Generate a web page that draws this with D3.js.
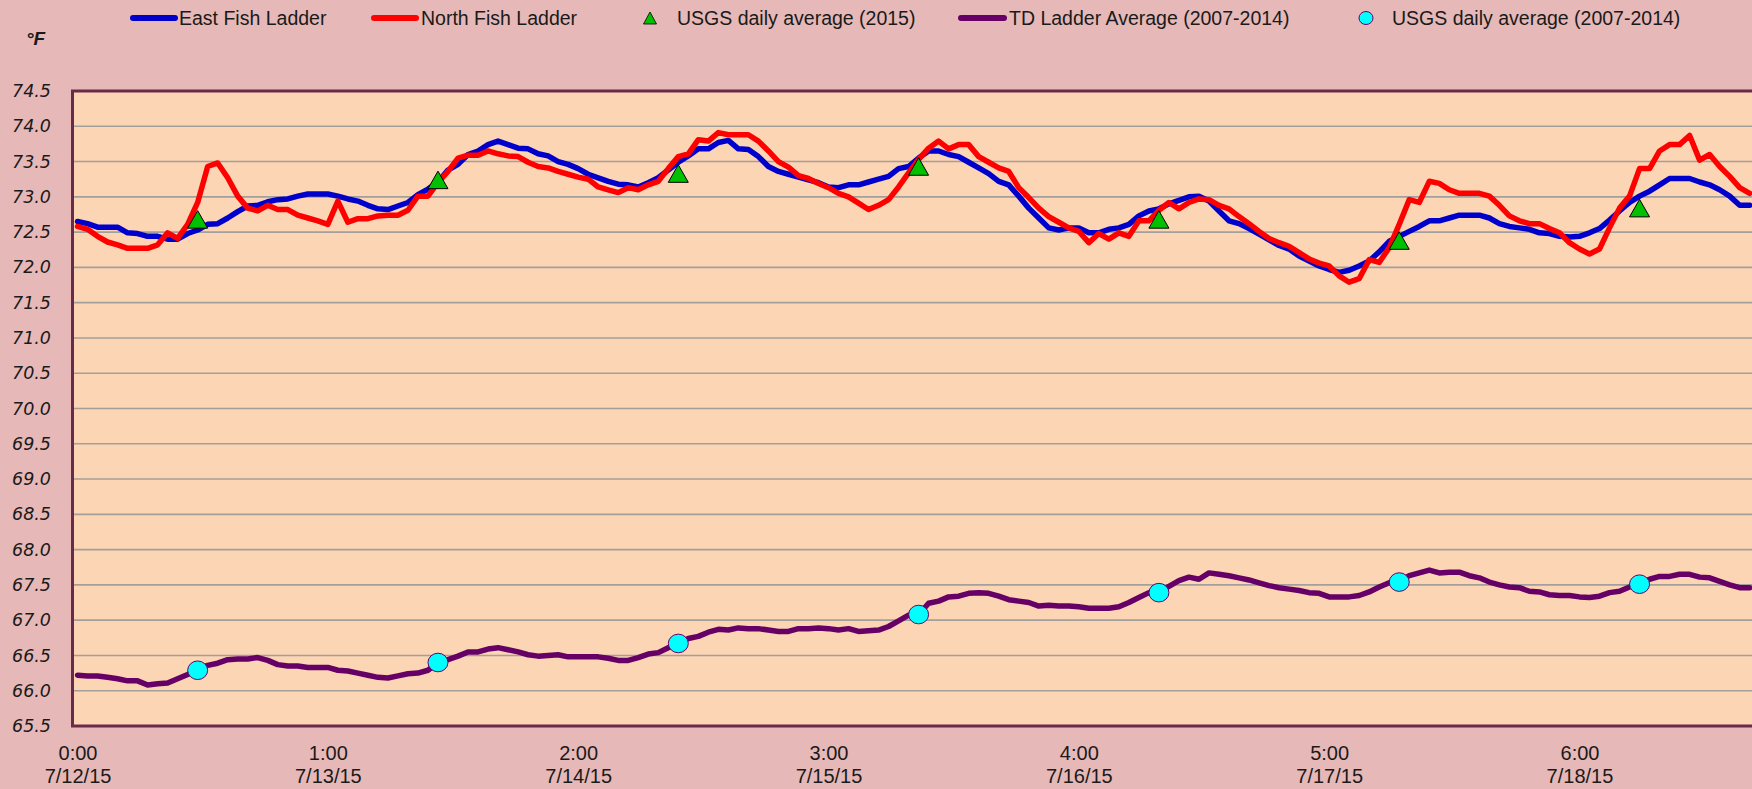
<!DOCTYPE html>
<html><head><meta charset="utf-8">
<script src="https://cdn.jsdelivr.net/npm/d3@7"></script>
<style>body{margin:0;background:#E6B8B7;} svg{display:block}</style>
</head><body>
<svg id="c" width="1752" height="789"></svg>
<script>
// Hourly readings, index 0 = 7/12/15 0:00
const eastFishLadder = [
72.65,72.62,72.57,72.57,72.57,72.49,72.48,72.44,72.44,72.40,
72.40,72.48,72.53,72.61,72.62,72.70,72.79,72.87,72.88,72.93,
72.96,72.97,73.01,73.04,73.04,73.04,73.01,72.97,72.94,72.88,
72.83,72.82,72.87,72.92,73.03,73.11,73.21,73.38,73.46,73.60,
73.65,73.74,73.79,73.74,73.69,73.68,73.61,73.58,73.50,73.46,
73.40,73.32,73.27,73.22,73.18,73.17,73.14,73.20,73.27,73.38,
73.49,73.58,73.68,73.68,73.77,73.80,73.68,73.67,73.57,73.43,
73.36,73.32,73.28,73.24,73.20,73.14,73.13,73.17,73.17,73.21,
73.25,73.29,73.40,73.43,73.55,73.65,73.65,73.60,73.57,73.49,
73.41,73.33,73.22,73.17,73.01,72.84,72.70,72.56,72.53,72.56,
72.56,72.49,72.49,72.54,72.56,72.61,72.73,72.80,72.83,72.90,
72.95,73.00,73.01,72.94,72.80,72.66,72.62,72.55,72.47,72.39,
72.31,72.26,72.16,72.09,72.02,71.97,71.93,71.96,72.02,72.09,
72.22,72.37,72.44,72.51,72.58,72.66,72.66,72.70,72.74,72.74,
72.74,72.70,72.62,72.58,72.56,72.54,72.49,72.48,72.44,72.43,
72.44,72.49,72.55,72.67,72.80,72.92,73.01,73.08,73.17,73.26,
73.26,73.26,73.21,73.17,73.10,73.01,72.88,72.88];
const northFishLadder = [
72.58,72.54,72.44,72.36,72.32,72.27,72.27,72.27,72.32,72.49,
72.41,72.61,72.92,73.43,73.48,73.27,73.01,72.84,72.80,72.88,
72.82,72.82,72.74,72.70,72.66,72.61,72.94,72.64,72.69,72.69,
72.73,72.74,72.74,72.81,73.01,73.01,73.20,73.36,73.55,73.59,
73.59,73.65,73.61,73.58,73.57,73.49,73.43,73.41,73.36,73.32,
73.28,73.25,73.14,73.10,73.06,73.13,73.10,73.17,73.22,73.40,
73.57,73.61,73.81,73.79,73.91,73.88,73.88,73.88,73.79,73.65,
73.50,73.42,73.30,73.26,73.19,73.13,73.05,73.00,72.91,72.82,
72.88,72.96,73.14,73.34,73.53,73.69,73.79,73.68,73.74,73.74,
73.57,73.49,73.41,73.36,73.13,72.99,72.84,72.72,72.64,72.56,
72.51,72.35,72.48,72.40,72.49,72.44,72.66,72.66,72.81,72.92,
72.83,72.92,72.97,72.96,72.88,72.83,72.72,72.62,72.51,72.41,
72.35,72.30,72.21,72.12,72.06,72.02,71.88,71.79,71.84,72.11,
72.07,72.28,72.61,72.96,72.92,73.22,73.19,73.10,73.05,73.05,
73.05,73.01,72.88,72.73,72.66,72.62,72.62,72.55,72.49,72.35,
72.26,72.19,72.26,72.56,72.84,73.01,73.40,73.40,73.65,73.74,
73.74,73.87,73.52,73.60,73.43,73.29,73.13,73.05];
const tdLadderAverage = [
66.22,66.21,66.21,66.19,66.17,66.14,66.14,66.08,66.10,66.11,
66.17,66.23,66.30,66.36,66.39,66.44,66.45,66.45,66.47,66.43,
66.37,66.35,66.35,66.33,66.33,66.33,66.29,66.28,66.25,66.22,
66.19,66.18,66.21,66.24,66.25,66.29,66.40,66.44,66.49,66.55,
66.55,66.59,66.61,66.58,66.55,66.51,66.49,66.50,66.51,66.48,
66.48,66.48,66.48,66.46,66.43,66.43,66.47,66.52,66.54,66.61,
66.67,66.74,66.77,66.83,66.87,66.86,66.89,66.88,66.88,66.86,
66.84,66.84,66.88,66.88,66.89,66.88,66.86,66.88,66.84,66.85,
66.86,66.91,66.99,67.07,67.08,67.24,67.27,67.33,67.34,67.38,
67.39,67.38,67.34,67.29,67.27,67.25,67.20,67.21,67.20,67.20,
67.19,67.17,67.17,67.17,67.19,67.25,67.32,67.39,67.38,67.48,
67.56,67.61,67.58,67.67,67.65,67.63,67.60,67.57,67.53,67.49,
67.46,67.44,67.42,67.39,67.38,67.33,67.33,67.33,67.35,67.40,
67.47,67.53,67.55,67.63,67.67,67.71,67.67,67.68,67.68,67.63,
67.60,67.54,67.50,67.47,67.46,67.41,67.40,67.36,67.35,67.35,
67.33,67.32,67.34,67.39,67.41,67.47,67.53,67.58,67.62,67.62,
67.65,67.65,67.61,67.60,67.55,67.50,67.46,67.46];
// daily averages plotted at noon (hour index)
const usgsHours = [12,36,60,84,108,132,156];
const usgs2015 = [72.68,73.24,73.33,73.43,72.68,72.38,72.84];
const usgs0714 = [66.29,66.40,66.67,67.08,67.39,67.54,67.51];
const yTickValues = [65.5,66.0,66.5,67.0,67.5,68.0,68.5,69.0,69.5,70.0,70.5,71.0,71.5,72.0,72.5,73.0,73.5,74.0,74.5];
const xTickHours = [0,25,50,75,100,125,150];
const xTickTimes = ["0:00","1:00","2:00","3:00","4:00","5:00","6:00"];
const xTickDates = ["7/12/15","7/13/15","7/14/15","7/15/15","7/16/15","7/17/15","7/18/15"];
const legendLabels = ["East Fish Ladder","North Fish Ladder","USGS daily average (2015)","TD Ladder Average (2007-2014)","USGS daily average (2007-2014)"];

const svg = d3.select("#c");
const L = 72.5, T = 91, B = 726, R = 1754.7;
const x = d3.scaleLinear().domain([-0.5, 167.5]).range([L, R]);
const y = d3.scaleLinear().domain([65.5, 74.5]).range([B, T]);

svg.append("rect").attr("width",1752).attr("height",789).attr("fill","#E6B8B7");
svg.append("rect").attr("x",L).attr("y",T).attr("width",1760-L).attr("height",B-T).attr("fill","#FCD5B4");

svg.append("defs").append("clipPath").attr("id","pc")
  .append("rect").attr("x",L).attr("y",T).attr("width",1760-L).attr("height",B-T);

// gridlines
svg.append("g").selectAll("line").data(yTickValues.filter(v=>v>65.5 && v<74.5)).join("line")
  .attr("x1",L).attr("x2",1752).attr("y1",d=>y(d)).attr("y2",d=>y(d))
  .attr("stroke","#A39F9C").attr("stroke-width",1.6);

// y axis labels
const yAxis = d3.axisLeft(y).tickValues(yTickValues).tickFormat(d3.format(".1f")).tickSize(0).tickPadding(0);
const yg = svg.append("g").attr("transform","translate(51,0)").call(yAxis);
yg.select(".domain").remove();
yg.selectAll("text").attr("font-family","DejaVu Sans, Verdana, sans-serif").attr("font-style","italic")
  .attr("font-size",17.5).attr("fill","#1a1a1a");

// x axis labels
const xAxis = d3.axisBottom(x).tickValues(xTickHours).tickSize(0).tickFormat("");
const xg = svg.append("g").attr("transform",`translate(0,${B})`).call(xAxis);
xg.select(".domain").remove();
xg.selectAll(".tick").each(function(d,i){
  const t = d3.select(this).append("text").attr("text-anchor","middle")
    .attr("font-family","Liberation Sans, Arial, sans-serif").attr("font-size",20).attr("fill","#1a1a1a");
  t.append("tspan").attr("x",0).attr("y",34).text(xTickTimes[i]);
  t.append("tspan").attr("x",0).attr("y",57).text(xTickDates[i]);
});

// series
const plot = svg.append("g").attr("clip-path","url(#pc)");
const line = d3.line().x((d,i)=>x(i)).y(d=>y(d));
const series = [
  {data: tdLadderAverage, color:"#660066"},
  {data: eastFishLadder, color:"#0000CC"},
  {data: northFishLadder, color:"#FF0000"}
];
series.forEach(s=>{
  plot.append("path").datum(s.data).attr("d",line).attr("fill","none")
    .attr("stroke",s.color).attr("stroke-width",5.5).attr("stroke-linejoin","round").attr("stroke-linecap","round");
});
const tri = (w,h)=>`M0,${-h/2}L${w/2},${h/2}L${-w/2},${h/2}Z`;
plot.selectAll(".tri").data(usgs2015).join("path").attr("class","tri")
  .attr("transform",(d,i)=>`translate(${x(usgsHours[i])},${y(d)})`)
  .attr("d",tri(20,17.5)).attr("fill","#00C000").attr("stroke","#000").attr("stroke-width",1);
plot.selectAll(".cir").data(usgs0714).join("ellipse").attr("class","cir")
  .attr("cx",(d,i)=>x(usgsHours[i])).attr("cy",d=>y(d)).attr("rx",10).attr("ry",9.3)
  .attr("fill","#00FFFF").attr("stroke","#660066").attr("stroke-width",1);

// border
const bc = "#6A2A4A";
svg.append("line").attr("x1",L-1.5).attr("x2",1752).attr("y1",T).attr("y2",T).attr("stroke",bc).attr("stroke-width",3);
svg.append("line").attr("x1",L-1.5).attr("x2",1752).attr("y1",B).attr("y2",B).attr("stroke",bc).attr("stroke-width",3);
svg.append("line").attr("x1",L).attr("x2",L).attr("y1",T).attr("y2",B).attr("stroke",bc).attr("stroke-width",3);

// °F
svg.append("text").attr("x",26).attr("y",45).attr("font-family","Liberation Sans, Arial, sans-serif")
  .attr("font-weight","bold").attr("font-style","italic").attr("font-size",19).attr("fill","#1a1a1a").text("°F");

// legend
const lg = svg.append("g").attr("font-family","Liberation Sans, Arial, sans-serif").attr("font-size",19.5).attr("fill","#1a1a1a");
const ly = 18;
const lineItem = (x1,x2,color,tx,label)=>{
  lg.append("line").attr("x1",x1).attr("x2",x2).attr("y1",ly).attr("y2",ly).attr("stroke",color).attr("stroke-width",6).attr("stroke-linecap","round");
  lg.append("text").attr("x",tx).attr("y",ly+7).text(label);
};
lineItem(133,175,"#0000CC",179,legendLabels[0]);
lineItem(374,416,"#FF0000",421,legendLabels[1]);
lg.append("path").attr("transform",`translate(650,${ly})`).attr("d",tri(13,12)).attr("fill","#00C000").attr("stroke","#000").attr("stroke-width",0.8);
lg.append("text").attr("x",677).attr("y",ly+7).text(legendLabels[2]);
lineItem(961,1004,"#660066",1009,legendLabels[3]);
lg.append("ellipse").attr("cx",1366).attr("cy",ly).attr("rx",7).attr("ry",6.5).attr("fill","#00FFFF").attr("stroke","#660066").attr("stroke-width",1);
lg.append("text").attr("x",1392).attr("y",ly+7).text(legendLabels[4]);
</script>
</body></html>
